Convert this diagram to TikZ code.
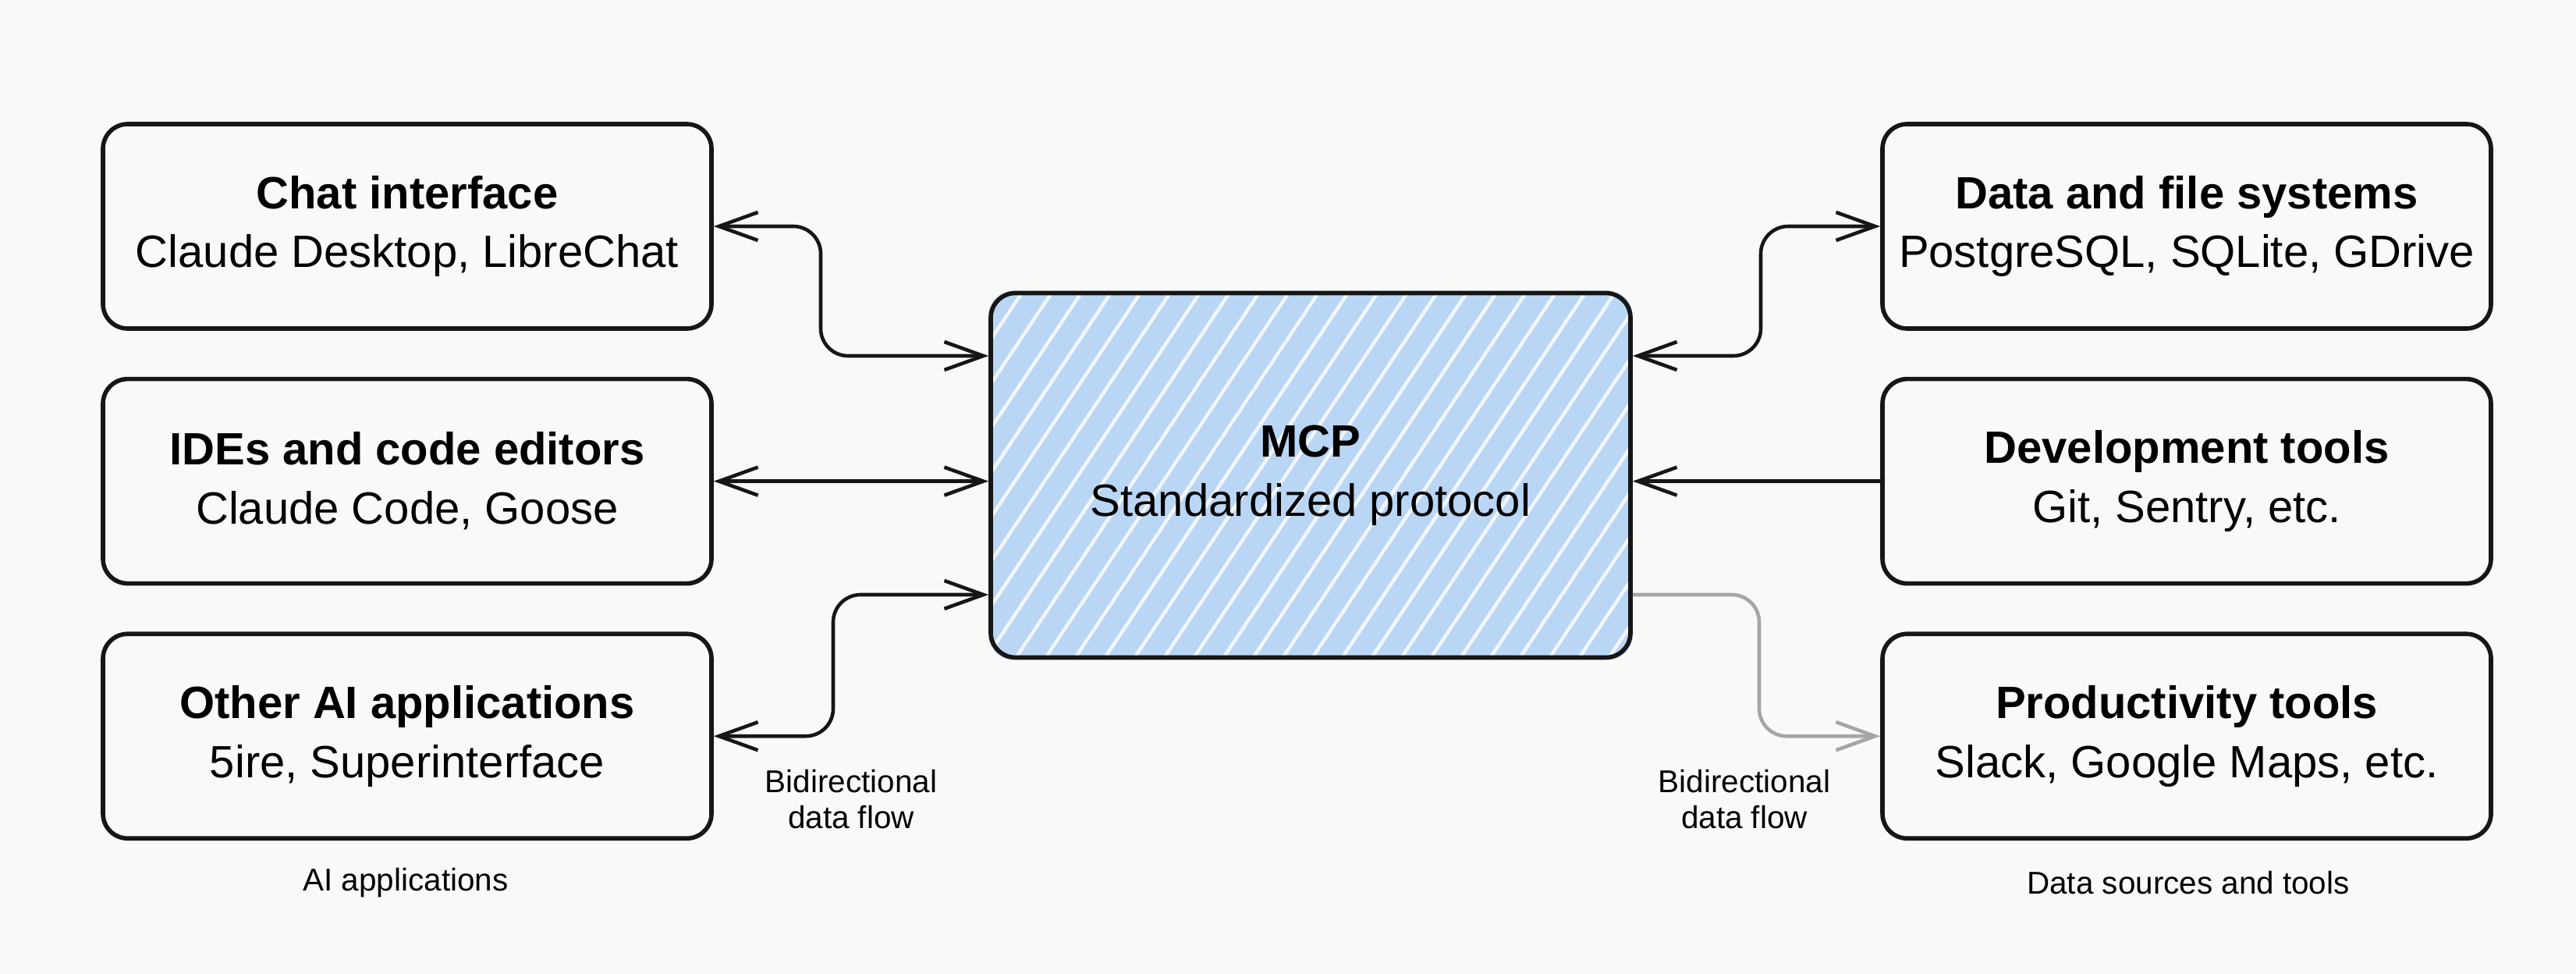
\documentclass[tikz,border=0pt]{standalone}
\usepackage{fontspec}
\setmainfont{Liberation Sans}
\usepackage{tikz}
\usetikzlibrary{arrows.meta,positioning,backgrounds,calc}
\newcommand{\twoline}[2]{\textbf{#1}\\#2}
\definecolor{paper}{RGB}{249,249,248}
\definecolor{hubblue}{RGB}{186,214,245}
\definecolor{ink}{RGB}{22,22,22}
\tikzset{
  box/.style={draw=ink, line width=1.6pt, rounded corners=9pt, minimum width=7.8cm,
              minimum height=2.62cm, align=center, font=\fontsize{16.5}{21.6}\selectfont},
  hub/.style={box, minimum width=8.2cm, minimum height=4.67cm},
  flow/.style={draw=ink, line width=1.3pt, rounded corners=10pt,
               {Straight Barb[length=5mm,width=3.6mm]}-{Straight Barb[length=5mm,width=3.6mm]}},
  into/.style={draw=ink, line width=1.3pt, rounded corners=10pt,
               -{Straight Barb[length=5mm,width=3.6mm]}},
  lbl/.style={font=\fontsize{11.5}{13}\selectfont, align=center},
  streak/.style={white, line width=1.3pt, opacity=0.8, line cap=round},
}

\begin{document}
\begin{tikzpicture}[x=1cm, y=1cm]
  \begin{scope}[on background layer]
    \fill[paper] (0,0) rectangle (33.02,-12.48);
  \end{scope}
  % left: clients
  \node[box] (chat) at (5.22,-2.9) {\twoline{Chat interface}{Claude Desktop, LibreChat}};
  \node[box, below=0.59cm of chat] (ide) {\twoline{IDEs and code editors}{Claude Code, Goose}};
  \node[box, below=0.59cm of ide] (other) {\twoline{Other AI applications}{5ire, Superinterface}};
  % hub
  \node[hub] (mcp) at (16.8,-6.09) {\twoline{MCP}{Standardized protocol}};
  % right: servers
  \node[box] (data) at (28.03,-2.9) {\twoline{Data and file systems}{PostgreSQL, SQLite, GDrive}};
  \node[box, below=0.59cm of data] (dev) {\twoline{Development tools}{Git, Sentry, etc.}};
  \node[box, below=0.59cm of dev] (prod) {\twoline{Productivity tools}{Slack, Google Maps, etc.}};
  \begin{scope}[on background layer]
    \fill[hubblue, rounded corners=9pt] (mcp.south west) rectangle (mcp.north east);
    \clip[rounded corners=9pt] (mcp.south west) rectangle (mcp.north east);
    \foreach \k in {0,...,32}
      \draw[streak] ($(mcp.south west)+(\k*0.38-3.6,-0.2)$) -- ++(3.4,5.1);
  \end{scope}
  \coordinate (mwu) at ([yshift=1.53cm]mcp.west);
  \coordinate (mwd) at ([yshift=-1.53cm]mcp.west);
  \coordinate (meu) at ([yshift=1.53cm]mcp.east);
  \coordinate (med) at ([yshift=-1.53cm]mcp.east);
  \coordinate (lb1) at (10.52,0);
  \coordinate (lb2) at (10.68,0);
  \coordinate (rb1) at (22.57,0);
  \coordinate (rb2) at (22.55,0);
  \draw[flow] (chat.east) -- (chat.east -| lb1) -- (lb1 |- mwu) -- (mwu);
  \draw[flow] (ide.east) -- (mcp.west |- ide.east);
  \draw[flow] (other.east) -- (other.east -| lb2) -- (lb2 |- mwd) -- (mwd);
  \draw[flow] (meu) -- (meu -| rb1) -- (rb1 |- data.west) -- (data.west);
  \draw[into] (dev.west) -- (mcp.east |- dev.west);
  \draw[into, draw=gray!70] (med) -- (med -| rb2) -- (rb2 |- prod.west) -- (prod.west);
  \node[lbl] (flowl) at (10.91,-10.24) {Bidirectional\\data flow};
  \node[lbl] (flowr) at (22.36,-10.24) {Bidirectional\\data flow};
  \node[lbl] (appcap) at (5.2,-11.31) {AI applications};
  \node[lbl] (srccap) at (28.05,-11.31) {Data sources and tools};
\end{tikzpicture}
\end{document}
